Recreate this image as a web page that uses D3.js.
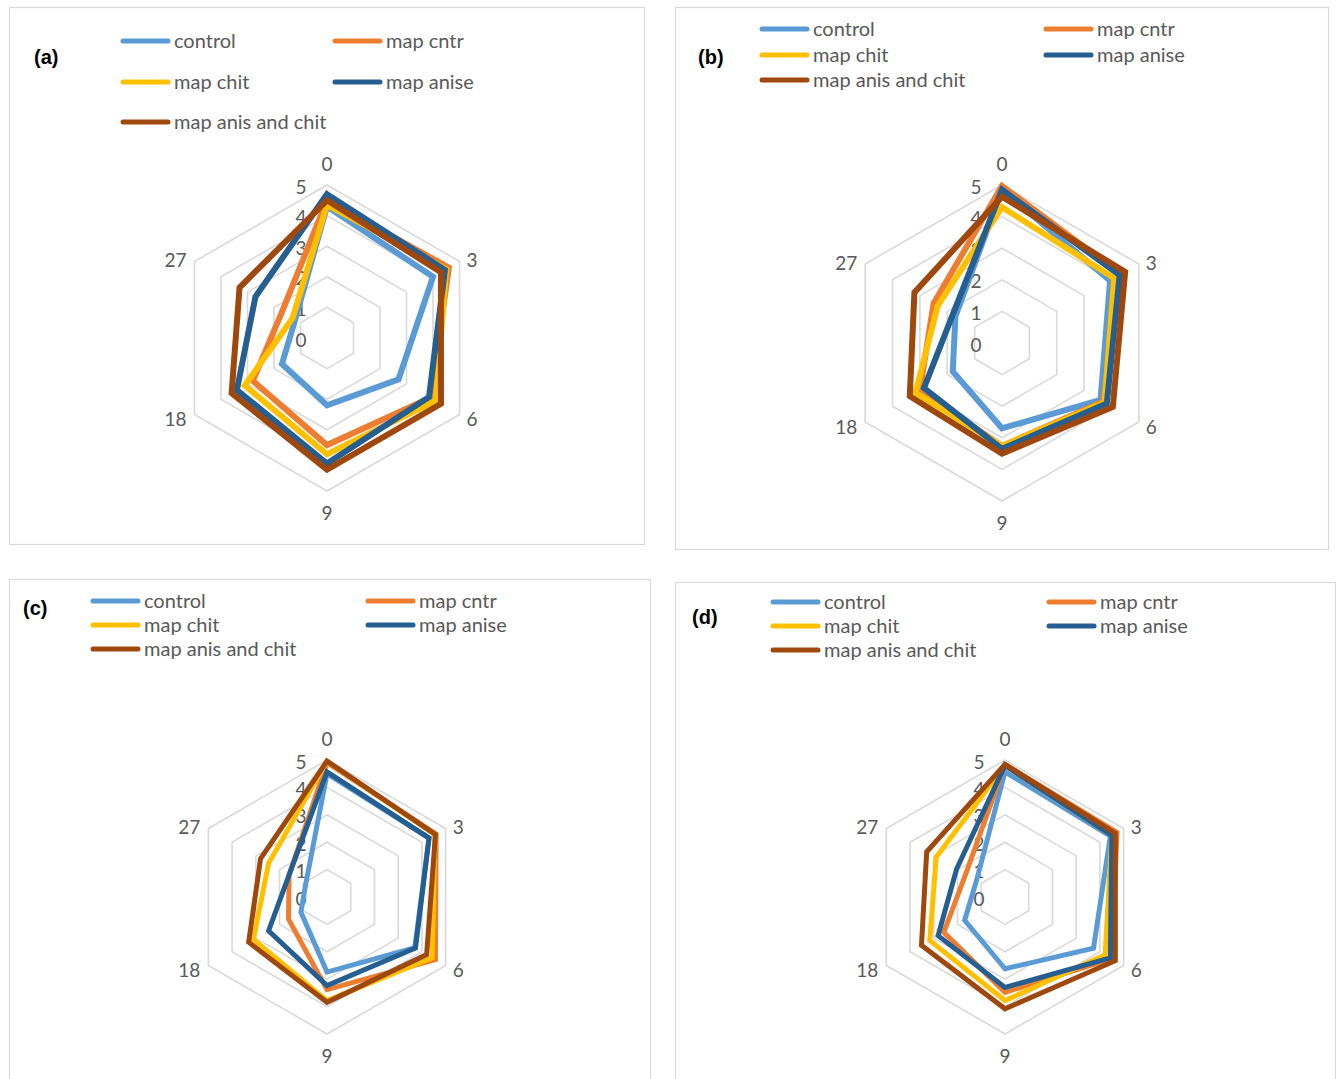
<!DOCTYPE html>
<html>
<head>
<meta charset="utf-8">
<script src="https://cdn.jsdelivr.net/npm/d3@7"></script>
<style>
  html, body { margin: 0; padding: 0; background: #ffffff; }
  svg { display: block; }
</style>
</head>
<body>
<svg id="chart" width="1336" height="1079"></svg>
<script>
// ---------- data ----------
const axisLabels = ["0", "3", "6", "9", "18", "27"];
const tickValues = [0, 1, 2, 3, 4, 5];
const seriesNames = ["control", "map cntr", "map chit", "map anise", "map anis and chit"];
const seriesColors = ["#5B9BD5", "#ED7D31", "#FFC000", "#255E91", "#9E480E"];
const panelLetters = ["(a)", "(b)", "(c)", "(d)"];

// panel (a)
const aControl = [4.3, 4.0, 2.7, 2.2, 1.7, 1.2];
const aCntr    = [4.5, 4.6, 3.9, 3.5, 2.8, 1.7];
const aChit    = [4.35, 4.5, 4.1, 3.8, 3.1, 1.3];
const aAnise   = [4.7, 4.45, 3.85, 4.1, 3.4, 2.7];
const aAnisChit= [4.5, 4.3, 4.3, 4.3, 3.6, 3.3];
// panel (b)
const bControl = [4.85, 3.95, 3.6, 2.7, 1.8, 1.7];
const bCntr    = [4.97, 4.35, 3.7, 3.26, 3.0, 2.5];
const bChit    = [4.3, 4.1, 3.75, 3.26, 3.16, 2.35];
const bAnise   = [4.85, 4.3, 3.83, 3.35, 2.85, 1.8];
const bAnisChit= [4.63, 4.5, 4.05, 3.5, 3.37, 3.2];
// panel (c)
const cControl = [4.5, 4.3, 3.7, 2.74, 1.1, 0.9];
const cCntr    = [4.9, 4.6, 4.57, 3.38, 1.62, 1.6];
const cChit    = [4.95, 4.55, 4.43, 3.78, 3.1, 2.46];
const cAnise   = [4.57, 4.3, 3.73, 3.23, 2.46, 1.6];
const cAnisChit= [4.96, 4.57, 4.2, 3.84, 3.3, 2.8];
// panel (d)
const dControl = [4.57, 4.44, 3.73, 2.62, 1.7, 1.2];
const dCntr    = [4.84, 4.72, 4.5, 3.48, 2.58, 1.66];
const dChit    = [4.8, 4.5, 4.22, 3.78, 3.17, 2.9];
const dAnise   = [4.8, 4.5, 4.44, 3.3, 2.82, 2.04];
const dAnisChit= [4.84, 4.65, 4.65, 4.08, 3.52, 3.3];

const panelSeries = [
  [aControl, aCntr, aChit, aAnise, aAnisChit],
  [bControl, bCntr, bChit, bAnise, bAnisChit],
  [cControl, cCntr, cChit, cAnise, cAnisChit],
  [dControl, dCntr, dChit, dAnise, dAnisChit]
];

// ---------- layout ----------
const layouts = [
  { box: [9, 7, 644, 544],    cx: 327,  cy: 338, R: 153, legX: [121, 333],  legY: [41, 82, 122], lab: [34, 64],  sw: 6 },
  { box: [675, 7, 1328, 549], cx: 1002, cy: 343, R: 158, legX: [760, 1044], legY: [29, 55, 80],  lab: [698, 64], sw: 6 },
  { box: [9, 579, 650, 1090], cx: 327,  cy: 897, R: 137, legX: [91, 366],   legY: [601, 625, 649], lab: [23, 615], sw: 5 },
  { box: [675, 582, 1335, 1090], cx: 1005, cy: 897, R: 137, legX: [771, 1047], legY: [602, 626, 650], lab: [692, 624], sw: 5 }
];

const svg = d3.select("#chart");
const textColor = "#595959";
const gridColor = "#D9D9D9";
const font = "Lato, 'Open Sans', sans-serif";

layouts.forEach((L, p) => {
  const g = svg.append("g");
  // frame
  g.append("rect")
    .attr("x", L.box[0] + 0.5).attr("y", L.box[1] + 0.5)
    .attr("width", L.box[2] - L.box[0]).attr("height", L.box[3] - L.box[1])
    .attr("fill", "#fff").attr("stroke", gridColor).attr("stroke-width", 1.2);

  // panel letter
  g.append("text")
    .attr("x", L.lab[0]).attr("y", L.lab[1])
    .attr("font-family", "'Liberation Sans', Arial, sans-serif")
    .attr("font-weight", "bold").attr("font-size", 20)
    .attr("fill", "#000").text(panelLetters[p]);

  // legend
  seriesNames.forEach((name, i) => {
    const col = i < 4 ? i % 2 : 0;
    const row = Math.floor(i / 2);
    const x = L.legX[col], y = L.legY[row];
    g.append("line")
      .attr("x1", x + 2).attr("x2", x + 47).attr("y1", y).attr("y2", y)
      .attr("stroke", seriesColors[i]).attr("stroke-width", 5)
      .attr("stroke-linecap", "round");
    g.append("text")
      .attr("x", x + 53).attr("y", y).attr("dy", "0.35em")
      .attr("font-family", font).attr("font-size", 20)
      .attr("fill", textColor).text(name);
  });

  const r = d3.scaleLinear().domain([0, 5]).range([0, L.R]);
  const ang = d3.scalePoint().domain(axisLabels).range([0, 2 * Math.PI * 5 / 6]);
  const plot = g.append("g").attr("transform", `translate(${L.cx},${L.cy})`);

  const radial = d3.lineRadial()
    .angle((d, i) => ang(axisLabels[i]))
    .radius(d => r(d))
    .curve(d3.curveLinearClosed);

  // grid rings
  plot.selectAll("path.ring")
    .data(tickValues.filter(t => t > 0))
    .join("path")
    .attr("class", "ring")
    .attr("d", t => radial(axisLabels.map(() => t)))
    .attr("fill", "none").attr("stroke", gridColor).attr("stroke-width", 1.6);

  // tick labels
  plot.selectAll("text.tick")
    .data(tickValues)
    .join("text")
    .attr("class", "tick")
    .attr("x", -26).attr("y", t => -r(t) + 2)
    .attr("dy", "0.35em").attr("text-anchor", "middle")
    .attr("font-family", font).attr("font-size", 19)
    .attr("fill", textColor).text(t => t);

  // series
  panelSeries[p].forEach((vals, i) => {
    plot.append("path")
      .attr("d", radial(vals))
      .attr("fill", "none")
      .attr("stroke", seriesColors[i])
      .attr("stroke-width", L.sw)
      .attr("stroke-linejoin", "miter");
  });

  // axis labels
  axisLabels.forEach(lbl => {
    const a = ang(lbl);
    const s = Math.sin(a), c = Math.cos(a);
    let x = r(5) * s, y = -r(5) * c;
    let anchor = "middle";
    if (Math.abs(s) < 0.01) {
      y += c > 0 ? -21 : 22;
    } else {
      x += s > 0 ? 7 : -8;
      y += c > 0 ? -1 : 5;
      anchor = s > 0 ? "start" : "end";
    }
    plot.append("text")
      .attr("x", x).attr("y", y).attr("dy", "0.35em")
      .attr("text-anchor", anchor)
      .attr("font-family", font).attr("font-size", 19)
      .attr("fill", textColor).text(lbl);
  });
});
</script>
</body>
</html>
